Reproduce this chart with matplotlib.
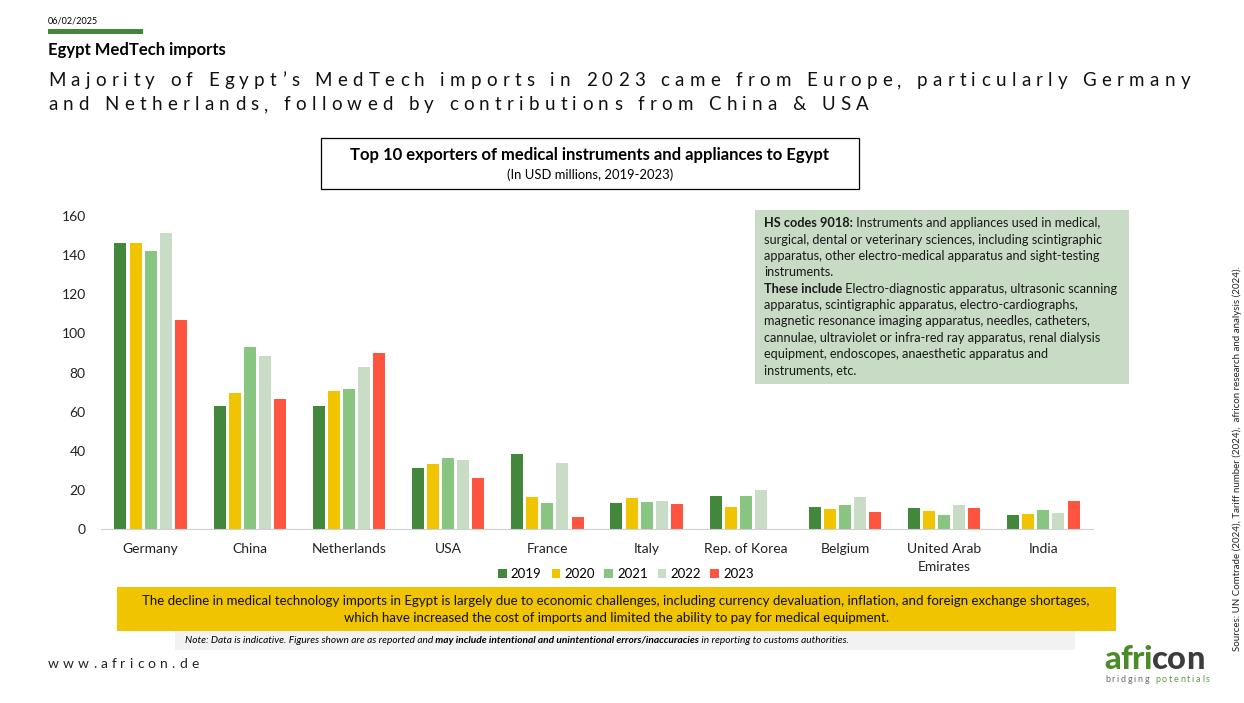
import matplotlib
matplotlib.use('Agg')
import matplotlib.pyplot as plt
import numpy as np
from matplotlib.patches import Rectangle
from matplotlib.font_manager import FontProperties

W, H = 1244, 703
FONT = 'Lato'

countries = ['Germany', 'China', 'Netherlands', 'USA', 'France', 'Italy',
             'Rep. of Korea', 'Belgium', 'United Arab\nEmirates', 'India']
years = ['2019', '2020', '2021', '2022', '2023']
v2019 = [146.2, 63.0, 63.0, 31.3, 38.5, 13.3, 16.9, 11.2, 10.7, 7.1]
v2020 = [146.2, 69.6, 70.6, 33.4, 16.5, 15.8, 11.2, 10.2, 9.2, 7.7]
v2021 = [142.1, 93.1, 71.7, 36.4, 13.4, 13.8, 16.9, 12.3, 7.1, 9.7]
v2022 = [151.3, 88.5, 82.9, 35.4, 33.9, 14.3, 19.9, 16.3, 12.3, 8.2]
v2023 = [106.9, 66.6, 90.0, 26.2, 6.3, 12.8, 0.0, 8.7, 10.7, 14.3]
series = [v2019, v2020, v2021, v2022, v2023]
colors = ['#43873c', '#f0c400', '#88c580', '#c9dcc6', '#ff5540']
yticks = [0, 20, 40, 60, 80, 100, 120, 140, 160]

headline = ['Majority of Egypt\u2019s MedTech imports in 2023 came from Europe, particularly Germany',
            'and Netherlands, followed by contributions from China & USA']
info_lines = [
    ('HS codes 9018:', ' Instruments and appliances used in medical,'),
    ('', 'surgical, dental or veterinary sciences, including scintigraphic'),
    ('', 'apparatus, other electro-medical apparatus and sight-testing'),
    ('', 'instruments.'),
    ('These include', ' Electro-diagnostic apparatus, ultrasonic scanning'),
    ('', 'apparatus, scintigraphic apparatus, electro-cardiographs,'),
    ('', 'magnetic resonance imaging apparatus, needles, catheters,'),
    ('', 'cannulae, ultraviolet or infra-red ray apparatus, renal dialysis'),
    ('', 'equipment, endoscopes, anaesthetic apparatus and'),
    ('', 'instruments, etc.'),
]
callout = ('The decline in medical technology imports in Egypt is largely due to economic challenges, '
           'including currency devaluation, inflation, and foreign exchange shortages,\n'
           'which have increased the cost of imports and limited the ability to pay for medical equipment.')


def fx(x):
    return x / W


def fy(y):
    return 1 - y / H


fig = plt.figure(figsize=(W / 100, H / 100), dpi=100)
fig.patch.set_facecolor('white')
rend = fig.canvas.get_renderer()


def tw(s, prop):
    return rend.get_text_width_height_descent(s, prop, ismath=False)[0]


def advances(s, prop):
    hh = tw('HH', prop)
    return [tw('H' + c + 'H', prop) - hh for c in s]


def tracked(x, y, s, prop, track, color, **kw):
    # draw text char by char with extra letter spacing (px)
    for c, a in zip(s, advances(s, prop)):
        if c != ' ':
            fig.text(fx(x), fy(y), c, fontproperties=prop, color=color,
                     va='baseline', ha='left', **kw)
        x += a + track
    return x


def segments(x, y, parts, size, color='black', **kw):
    for s, weight, style in parts:
        t = fig.text(fx(x), fy(y), s, family=FONT, size=size, weight=weight,
                     style=style, color=color, va='baseline', ha='left', **kw)
        x += t.get_window_extent(rend).width


def rect(x0, y0, x1, y1, **kw):
    fig.patches.append(Rectangle((fx(x0), fy(y1)), (x1 - x0) / W, (y1 - y0) / H,
                                 transform=fig.transFigure, **kw))


# header
fig.text(fx(48), fy(23), '06/02/2025', family=FONT, size=6.5, va='baseline')
rect(48, 29, 143, 34, facecolor='#43873c', edgecolor='none')
fig.text(fx(48), fy(55), 'Egypt MedTech imports', family=FONT, size=12,
         weight='bold', va='baseline')

hp = FontProperties(family=FONT, size=13.5)
adv = advances(headline[0], hp)
track = (1190 - 48 - sum(adv)) / (len(headline[0]) - 1)
tracked(48, 86, headline[0], hp, track, '#111111')
tracked(48, 110, headline[1], hp, track, '#111111')

# chart title box
rect(321, 138, 859, 189, facecolor='white', edgecolor='black', linewidth=0.9)
fig.text(fx(590), fy(160), 'Top 10 exporters of medical instruments and appliances to Egypt',
         family=FONT, size=12, weight='bold', ha='center', va='baseline')
fig.text(fx(590), fy(179), '(In USD millions, 2019-2023)', family=FONT, size=9.4,
         ha='center', va='baseline')

# bar chart
ax = fig.add_axes([fx(101), fy(529), (1093 - 101) / W, (529 - 216) / H])
x = np.arange(len(countries))
slot, bw = 0.152, 0.121
for i, (vals, yr, col) in enumerate(zip(series, years, colors)):
    ax.bar(x + (i - 2) * slot, vals, width=bw, color=col, label=yr, zorder=2)
ax.set_xlim(-0.5, len(countries) - 0.5)
ax.set_ylim(0, 160)
ax.set_yticks(yticks)
ax.set_xticks(x)
ax.set_xticklabels(countries, family=FONT, size=10, color='#222222', linespacing=1.65)
for lab in ax.get_yticklabels():
    lab.set_family(FONT)
    lab.set_size(10)
    lab.set_color('#222222')
ax.tick_params(axis='x', length=0, pad=10)
ax.tick_params(axis='y', length=0, pad=11)
for side in ['top', 'right', 'left']:
    ax.spines[side].set_visible(False)
ax.spines['bottom'].set_color('#d0d0d0')
ax.set_facecolor('none')

fig.legend(*ax.get_legend_handles_labels(), loc='center', bbox_to_anchor=(fx(626), fy(574)),
           ncol=5, frameon=False, handlelength=0.65, handleheight=0.65,
           handletextpad=0.3, columnspacing=0.75, prop={'family': FONT, 'size': 9.5})

# info box
rect(755, 210, 1129, 384, facecolor='#c8dcc5', edgecolor='none')
for k, (b, n) in enumerate(info_lines):
    parts = []
    if b:
        parts.append((b, 'bold', 'normal'))
    parts.append((n, 'normal', 'normal'))
    segments(764, 227.5 + k * 16.3, parts, 9.15, color='#1a1a1a')

# yellow callout
rect(117, 587, 1116, 631, facecolor='#f0c400', edgecolor='none')
fig.text(fx(616), fy(609.5), callout, family=FONT, size=9.5, ha='center', va='center',
         linespacing=1.55, color='#111111')

# note
rect(175, 631, 1075, 650, facecolor='#f2f2f2', edgecolor='none')
segments(185, 643, [('Note: Data is indicative. Figures shown are as reported and', 'normal', 'italic'),
                    (' may include intentional and unintentional errors/inaccuracies', 'bold', 'italic'),
                    (' in reporting to customs authorities.', 'normal', 'italic')], 7.3)

# footer
fp = FontProperties(family=FONT, size=10)
tracked(48, 668, 'www.africon.de', fp, 4.1, '#222222')

lp = FontProperties(family=FONT, size=23.5, weight='black')
xe = tracked(1104, 669, 'afri', lp, -0.4, '#4b8c2a')
tracked(xe, 669, 'con', lp, -0.4, '#3c3c3c')
sp = FontProperties(family=FONT, size=6.5)
xe = tracked(1105, 682, 'bridging ', sp, 1.75, '#6b6b6b')
tracked(xe, 682, 'potentials', sp, 1.75, '#5e9a45')

fig.text(fx(1237), fy(459),
         'Sources: UN Comtrade (2024), Tariff number (2024),  africon research and analysis (2024).',
         family=FONT, size=7.0, rotation=90, ha='center', va='center', color='#222222')

fig.savefig('out.png', dpi=100)
